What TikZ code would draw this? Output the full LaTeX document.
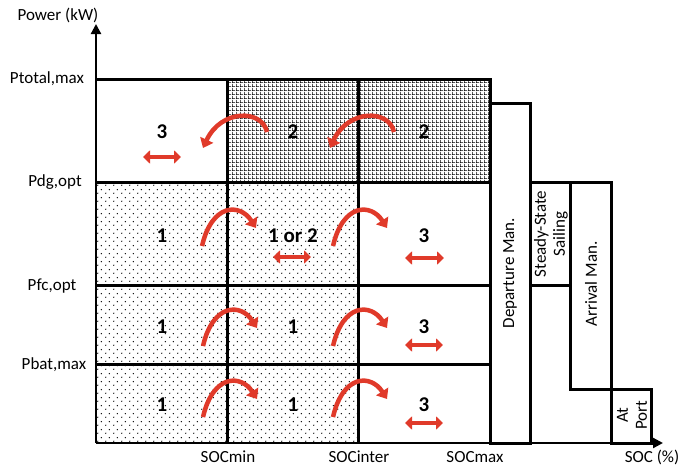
\documentclass[tikz,border=0pt]{standalone}
\usepackage{fontspec}
\setmainfont{Carlito}
\usetikzlibrary{arrows.meta,patterns,calc}

% sparse staggered dots
\pgfdeclarepatternformonly{sparsedots}{\pgfqpoint{0pt}{0pt}}{\pgfqpoint{8pt}{8pt}}{\pgfqpoint{8pt}{8pt}}{%
  \pgfpathcircle{\pgfqpoint{2pt}{2pt}}{0.8pt}%
  \pgfpathcircle{\pgfqpoint{6pt}{6pt}}{0.8pt}%
  \pgfusepath{fill}}
% fine square mesh
\pgfdeclarepatternformonly{finemesh}{\pgfqpoint{0pt}{0pt}}{\pgfqpoint{3.5pt}{3.5pt}}{\pgfqpoint{3.5pt}{3.5pt}}{%
  \pgfpathrectangle{\pgfpointorigin}{\pgfqpoint{3.5pt}{0.8pt}}%
  \pgfpathrectangle{\pgfpointorigin}{\pgfqpoint{0.8pt}{3.5pt}}%
  \pgfusepath{fill}}

\definecolor{arrowred}{RGB}{224,58,42}

\tikzset{
  lbl/.style={font=\fontsize{17}{19}\selectfont, inner sep=0pt},
  num/.style={font=\fontsize{21}{23}\selectfont\bfseries, inner sep=0pt},
  border/.style={line width=3pt},
  axis/.style={line width=2.2pt, -{Triangle[length=10pt,width=10pt]}},
  swap/.style={arrowred, line width=4.5pt,
    {Triangle[length=7pt,width=13pt]}-{Triangle[length=7pt,width=13pt]}},
  hop/.style={arrowred, line width=4.5pt, -{Triangle[length=9pt,width=14pt]}},
}

% curved arrow over a boundary, moving right; #1 = top of the arc
\newcommand\hopright[1]{%
  \draw[hop] ($#1+(-25,34)$) .. controls ($#1+(-15,-9)$) and ($#1+(13,-9)$) .. ($#1+(29,16)$);}
% curved arrow over a boundary, moving left
\newcommand\hopleft[1]{%
  \draw[hop] ($#1+(27,15)$) .. controls ($#1+(22,-8)$) and ($#1+(-19,-8)$) .. ($#1+(-37,31)$);}

\begin{document}
\begin{tikzpicture}[x=1pt,y=-1pt]
\useasboundingbox (0,0) rectangle (685,466);

% shaded zones
\fill[pattern=finemesh] (227,79) rectangle (490,182);
\fill[pattern=sparsedots] (96,182) rectangle (358,443);

% zone grid
\draw[border] (96,79) -- (490,79) -- (490,443);
\draw[border] (96,182) -- (490,182);
\draw[border] (96,285) -- (490,285);
\draw[border] (96,364) -- (490,364);
\draw[border] (227,79) -- (227,443);
\draw[border] (358,79) -- (358,443);

% operating phases
\draw[border] (490,103) rectangle (530,443);
\draw[border] (530,182) rectangle (570,285);
\draw[border] (570,182) rectangle (611,389);
\draw[border] (611,389) rectangle (651,443);

% axes
\coordinate (o) at (96,443);
\coordinate (ytip) at (96,24);
\coordinate (xtip) at (663,443);
\draw[axis] (o) -- (ytip);
\draw[axis] (o) -- (xtip);

% axis labels
\node[lbl] (ylab) at (58,15) {Power (kW)};
\node[lbl] (pt) at (47,79) {Ptotal,max};
\node[lbl] (pdg) at (55,182) {Pdg,opt};
\node[lbl] (pfc) at (52,286) {Pfc,opt};
\node[lbl] (pbat) at (54,365) {Pbat,max};
\node[lbl] (smin) at (228,457) {SOCmin};
\node[lbl] (sint) at (359,457) {SOCinter};
\node[lbl] (smax) at (475,457) {SOCmax};
\node[lbl] (xlab) at (652,457) {SOC (\%)};

% phase labels
\node[lbl, rotate=90] (dep) at (510,273) {Departure Man.};
\node[lbl, rotate=90, align=center] (ss) at (551,234) {Steady-State\\Sailing};
\node[lbl, rotate=90] (arr) at (591,284) {Arrival Man.};
\node[lbl, rotate=90, align=center] (port) at (632,415) {At\\Port};

% mode numbers
\node[num] (m11) at (162,132) {3};
\node[num] (m12) at (293,132) {2};
\node[num] (m13) at (424,132) {2};
\node[num] (m21) at (162,236) {1};
\node[num] (m22) at (293,236) {1 or 2};
\node[num] (m23) at (424,236) {3};
\node[num] (m31) at (162,327) {1};
\node[num] (m32) at (293,327) {1};
\node[num] (m33) at (424,327) {3};
\node[num] (m41) at (162,405) {1};
\node[num] (m42) at (293,405) {1};
\node[num] (m43) at (424,405) {3};

% mode switching within a zone
\draw[swap] (143,157) -- (181,157);
\draw[swap] (273,257) -- (311,257);
\draw[swap] (405,258) -- (444,258);
\draw[swap] (405,345) -- (443,345);
\draw[swap] (405,423) -- (443,423);

% mode switching across boundaries
\hopleft{(240,117)}
\hopleft{(367,117)}
\hopright{(227,212)}
\hopright{(358,212)}
\hopright{(228,312)}
\hopright{(358,312)}
\hopright{(228,383)}
\hopright{(358,383)}
\end{tikzpicture}
\end{document}
